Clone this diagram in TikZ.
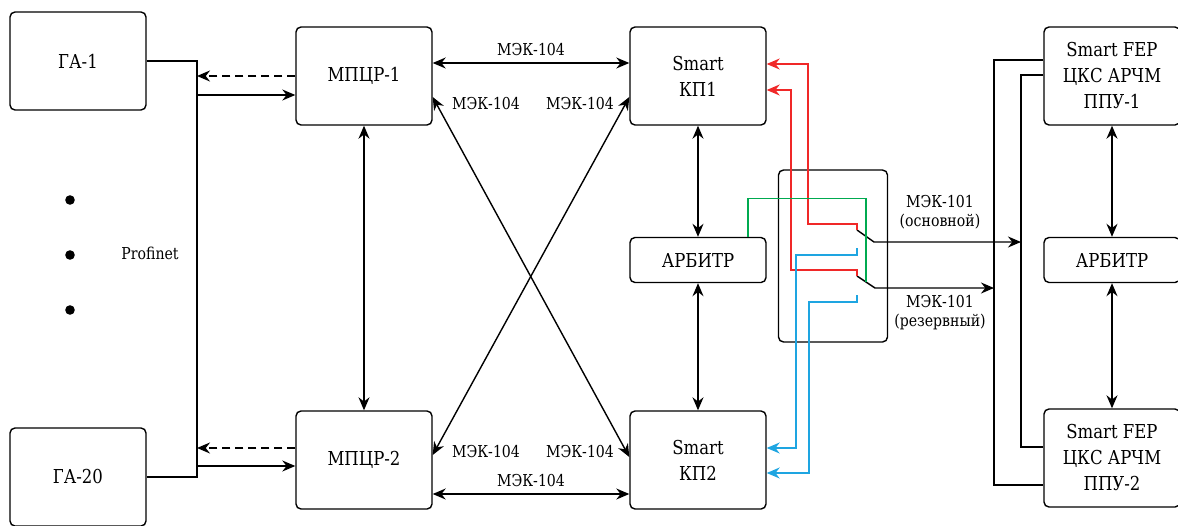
\documentclass[tikz,border=0pt]{standalone}
\usepackage{fontspec}
\setmainfont{DejaVu Serif}[FakeStretch=0.86]
\usetikzlibrary{arrows.meta,positioning,calc}
\definecolor{redLn}{RGB}{240,40,40}
\definecolor{blueLn}{RGB}{30,165,225}
\definecolor{greenLn}{RGB}{0,170,80}
\tikzset{
  blk/.style={draw,rounded corners=2.5pt,line width=0.7pt,align=center,minimum width=68pt,
              minimum height=49pt,inner sep=1pt,font=\fontsize{9.6}{13}\selectfont},
  slim/.style={blk,minimum height=22.5pt},
  lnk/.style={line width=0.7pt},
  flow/.style={lnk,-{Stealth[length=6.5pt,width=5.5pt]}},
  dflow/.style={lnk,{Stealth[length=6.5pt,width=5.5pt]}-{Stealth[length=6.5pt,width=5.5pt]}},
  wire/.style={line width=0.6pt,-{Stealth[length=6.5pt,width=5.5pt]}},
  lab/.style={font=\fontsize{8.2}{9.6}\selectfont,align=center},
}
\begin{document}
\begin{tikzpicture}[x=0.5pt,y=-0.5pt]
  \useasboundingbox (0,0) rectangle (1178,525);
  \node[blk] (ga1) at (78,61) {ГА-1};
  \node[blk] (ga20) at (78,477) {ГА-20};
  \node[blk] (m1) at (364,76) {МПЦР-1};
  \node[blk] (m2) at (364,460) {МПЦР-2};
  \node[blk] (kp1) at (698,76) {Smart\\КП1};
  \node[slim] (arb) at (698,260) {АРБИТР};
  \node[blk] (kp2) at (698,460) {Smart\\КП2};
  \node[blk,minimum width=54.5pt,minimum height=86pt] (sw) at (833,256) {};
  \node[blk] (fep1) at (1112,76) {Smart FEP\\ЦКС АРЧМ\\ППУ-1};
  \node[slim] (arb2) at (1112,260) {АРБИТР};
  \node[blk] (fep2) at (1112,458) {Smart FEP\\ЦКС АРЧМ\\ППУ-2};
  \node[lab] (pn) at (150,253) {Profinet};
  \foreach \y in {200,255,310} \fill (70,\y) circle (2.4pt);
  \coordinate (busL) at (197,0);
  \coordinate (busR1) at (994,0);
  \coordinate (busR2) at (1021,0);
  \draw[lnk] (ga1.east) -- (ga1.east -| busL) -- (ga20.east -| busL) -- (ga20.east);
  \draw[flow,dash pattern=on 4pt off 2.5pt] (m1.west) -- (m1.west -| busL);
  \draw[flow] ($(busL |- m1.west)+(0,19)$) -- ($(m1.west)+(0,19)$);
  \draw[flow,dash pattern=on 4pt off 2.5pt] ($(m2.west)+(0,-12)$) -- ($(busL |- m2.west)+(0,-12)$);
  \draw[flow] ($(busL |- m2.west)+(0,6)$) -- ($(m2.west)+(0,6)$);
  \draw[dflow] (m1) -- (m2);
  \draw[dflow] ($(m1.east)+(0,-13)$) -- node[lab,above] (lbT) {МЭК-104} ($(kp1.west)+(0,-13)$);
  \draw[dflow] ($(m2.east)+(0,34)$) -- node[lab,above] (lbB) {МЭК-104} ($(kp2.west)+(0,34)$);
  \draw[dflow] ($(m1.east)+(0,21)$) -- ($(kp2.west)+(0,-3)$);
  \draw[dflow] ($(kp1.west)+(0,21)$) -- ($(m2.east)+(0,-5)$);
  \node[lab] (lb1) at (486,104) {МЭК-104};
  \node[lab] (lb2) at (580,104) {МЭК-104};
  \node[lab] (lb3) at (486,452) {МЭК-104};
  \node[lab] (lb4) at (580,452) {МЭК-104};
  \draw[dflow] (kp1) -- (arb);
  \draw[dflow] (arb) -- (kp2);
  \draw[dflow] (fep1) -- (arb2);
  \draw[dflow] (arb2) -- (fep2);
  \draw[lnk] ($(fep1.west)+(0,-16)$) -- ($(busR1 |- fep1.west)+(0,-16)$)
    -- ($(busR1 |- fep2.west)+(0,27)$) -- ($(fep2.west)+(0,27)$);
  \draw[lnk] ($(fep1.west)+(0,-1)$) -- ($(busR2 |- fep1.west)+(0,-1)$)
    -- ($(busR2 |- fep2.west)+(0,-11)$) -- ($(fep2.west)+(0,-11)$);
  \coordinate (c1) at (857,230);
  \coordinate (c2) at (857,276);
  \coordinate (b1) at (857,248);
  \coordinate (b2) at (857,295);
  \coordinate (g1) at (866,282);
  \draw[flow] (c1) -- ++(17,12) coordinate (t1) -- (t1 -| busR2);
  \draw[flow] (c2) -- ++(18,12) coordinate (t2) -- (t2 -| busR1);
  \node[lab] (lbP) at (940,212) {МЭК-101\\(основной)};
  \node[lab] (lbR) at (940,313) {МЭК-101\\(резервный)};
  \draw[wire,redLn] (c1) -- ++(0,-6) -- ++(-49,0) |- ($(kp1.east)+(0,-12)$);
  \draw[wire,redLn] (c2) -- ++(0,-6) -- ++(-66,0) |- ($(kp1.east)+(0,14)$);
  \draw[wire,blueLn] (b1) -- ++(0,7) -- ++(-61,0) |- ($(kp2.east)+(0,-12)$);
  \draw[wire,blueLn] (b2) -- ++(0,7) -- ++(-48,0) |- ($(kp2.east)+(0,13)$);
  \draw[line width=0.6pt,greenLn] ($(arb.north)+(50,0)$) -- ++(0,-38) -| (g1);
\end{tikzpicture}
\end{document}
